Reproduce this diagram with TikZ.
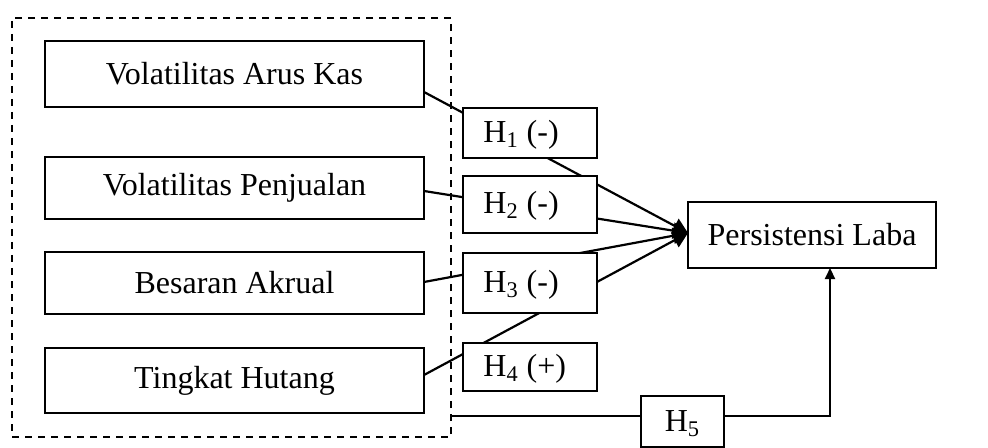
\documentclass[tikz,border=0pt]{standalone}
\usepackage{fontspec}
\setmainfont{Liberation Serif}
\usetikzlibrary{arrows.meta,backgrounds}
\begin{document}
\begin{tikzpicture}[x=0.5pt,y=-0.5pt,
  box/.style={draw,line width=1pt,fill=white,inner sep=0pt,outer sep=0pt,
    font=\fontsize{16pt}{19pt}\selectfont},
  varbox/.style={box,minimum width=189.5pt},
  hbox/.style={box,minimum width=67pt},
  hlabel/.style={anchor=west,inner sep=0pt,font=\fontsize{16pt}{19pt}\selectfont},
  link/.style={line width=1.1pt,-{Triangle[length=7.5pt,width=8pt]}},
]
\useasboundingbox (0,0) rectangle (988,448);

% group of independent variables
\node[draw,dash pattern=on 3.5pt off 3pt,line width=0.8pt,inner sep=0pt,
  minimum width=219.5pt,minimum height=209.5pt] (frame) at (231.5,227.5) {};

\node[varbox,minimum height=33pt] (v1) at (234.5,74) {Volatilitas Arus Kas};
\node[varbox,minimum height=31pt] (v2) at (234.5,188) {Volatilitas Penjualan};
\node[varbox,minimum height=31pt] (v3) at (234.5,283) {Besaran Akrual};
\node[varbox,minimum height=32.5pt] (v4) at (234.5,380.5) {Tingkat Hutang};

\node[box,minimum width=124pt,minimum height=33pt] (pl) at (812,235) {Persistensi Laba};

% hypothesis boxes
\node[hbox,minimum height=25pt] (h1) at (530,133) {};
\node[hbox,minimum height=28.5pt] (h2) at (530,204.5) {};
\node[hbox,minimum height=30pt] (h3) at (530,283) {};
\node[hbox,minimum height=24pt] (h4) at (530,367) {};
\node[box,minimum width=41.5pt,minimum height=25.5pt] (h5) at (682.5,421.5) {};

\node[hlabel] at (483,135) {H\textsubscript{1} (-)};
\node[hlabel] at (483,206) {H\textsubscript{2} (-)};
\node[hlabel] at (483,285) {H\textsubscript{3} (-)};
\node[hlabel] at (483,369) {H\textsubscript{4} (+)};
\node[hlabel,anchor=center] at ([yshift=-1pt]h5.center) {H\textsubscript{5}};

% paths from each variable to earnings persistence
\begin{pgfonlayer}{background}
\draw[link] ([yshift=-9pt]v1.east) -- ([yshift=1pt]pl.west);
\draw[link] ([yshift=-1.5pt]v2.east) -- ([yshift=1pt]pl.west);
\draw[link] ([yshift=0.5pt]v3.east) -- ([yshift=1pt]pl.west);
\draw[link] ([yshift=2.75pt]v4.east) -- ([yshift=1pt]pl.west);
\end{pgfonlayer}

% simultaneous path H5
\coordinate (turn) at (830,416);
\draw[line width=1pt] (frame.east |- turn) -- (h5.west |- turn);
\draw[line width=1pt,-{Triangle[length=5.5pt,width=5pt]}]
  (h5.east |- turn) -- (turn) -- (turn |- pl.south);
\end{tikzpicture}
\end{document}
